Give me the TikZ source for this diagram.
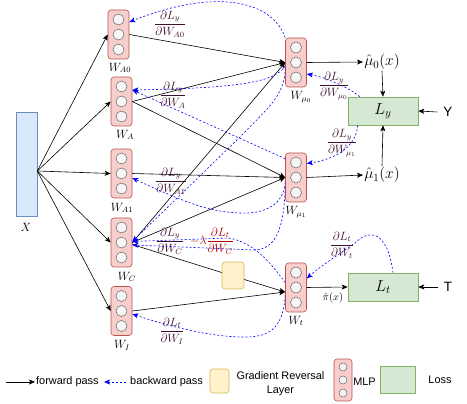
\RequirePackage{fix-cm}
\documentclass[tikz,border=0pt]{standalone}
\usepackage{amsmath}
\usepackage{fontspec}
\setsansfont{Liberation Sans}
\usetikzlibrary{arrows.meta,calc}
\definecolor{mlpfill}{HTML}{F8CECC}
\definecolor{mlpdraw}{HTML}{B85450}
\definecolor{neufill}{HTML}{F5F5F5}
\definecolor{neudraw}{HTML}{666666}
\definecolor{xfill}{HTML}{DAE8FC}
\definecolor{xdraw}{HTML}{6C8EBF}
\definecolor{grlfill}{HTML}{FFF2CC}
\definecolor{grldraw}{HTML}{D6B656}
\definecolor{lossfill}{HTML}{D5E8D4}
\definecolor{lossdraw}{HTML}{82B366}
\definecolor{gradcol}{HTML}{401030}
\definecolor{gradred}{HTML}{B00000}
\definecolor{bwdblue}{HTML}{0000FF}
\newcommand{\mlpnode}[2]{%
  \node[mlpbox] (#1) at #2 {};
  \node[neuron] (#1-a) at ([yshift=15pt]#1.center) {};
  \node[neuron] (#1-b) at (#1.center) {};
  \node[neuron] (#1-c) at ([yshift=-15pt]#1.center) {};
}
\newcommand{\legfont}{\sffamily\fontsize{10.9}{14}\selectfont}
\begin{document}
\begin{tikzpicture}[x=1pt,y=-1pt,
  mlpbox/.style={draw=mlpdraw, fill=mlpfill, rounded corners=3pt, minimum width=21pt, minimum height=49pt, inner sep=0pt, line width=0.6pt},
  neuron/.style={circle, draw=neudraw, fill=neufill, minimum size=11pt, inner sep=0pt, line width=0.5pt},
  xbox/.style={draw=xdraw, fill=xfill, minimum width=21pt, minimum height=104pt, inner sep=0pt, line width=0.6pt},
  grlbox/.style={draw=grldraw, fill=grlfill, rounded corners=3pt, inner sep=0pt, line width=0.6pt},
  lossbox/.style={draw=lossdraw, fill=lossfill, inner sep=0pt, line width=0.6pt},
  fwd/.style={draw=black, line width=0.6pt, -{Stealth[length=6pt,width=5pt,inset=1.5pt]}},
  plain/.style={draw=black, line width=0.6pt},
  bwd/.style={draw=bwdblue, line width=0.6pt, dash pattern=on 2pt off 2pt, -{Stealth[length=6pt,width=5pt,inset=1.5pt]}},
  wlab/.style={font=\fontsize{12}{14}\selectfont, inner sep=0pt},
  grad/.style={font=\fontsize{12}{14}\selectfont, text=gradcol, inner sep=0pt},
  gradr/.style={font=\fontsize{12}{14}\selectfont, text=gradred, inner sep=0pt},
  legtext/.style={font=\legfont, inner sep=1pt}
]
\useasboundingbox (0,0) rectangle (467,404);

% input
\node[xbox] (xb) at (26.5,164) {};
\node[wlab] (xlab) at (26,227) {$X$};

% MLPs
\mlpnode{wa0}{(118.5,34.5)}
\mlpnode{wa}{(121.5,101.5)}
\mlpnode{wa1}{(121.5,173.5)}
\mlpnode{wc}{(121.5,242.5)}
\mlpnode{wi}{(121.5,311)}
\mlpnode{wmu0}{(296,62.5)}
\mlpnode{wmu1}{(296,177.5)}
\mlpnode{wt}{(296,287.5)}

\node[wlab] (la0) at (120,68) {$W_{A0}$};
\node[wlab] (la) at (125,135) {$W_{A}$};
\node[wlab] (la1) at (122,208) {$W_{A1}$};
\node[wlab] (lc) at (127,277) {$W_{C}$};
\node[wlab] (li) at (122,345) {$W_{I}$};
\node[wlab] (lmu0) at (301,97) {$W_{\mu_0}$};
\node[wlab] (lmu1) at (296,212) {$W_{\mu_1}$};
\node[wlab] (lt) at (296,321) {$W_{t}$};

% GRL
\node[grlbox, minimum width=22pt, minimum height=27pt] (grl) at (233,275.5) {};

% outputs and losses
\node[font=\fontsize{15.5}{17}\selectfont, inner sep=1pt] (mu0) at (382,62) {$\hat{\mu}_0(x)$};
\node[font=\fontsize{15.5}{17}\selectfont, inner sep=1pt] (mu1) at (382,175) {$\hat{\mu}_1(x)$};
\node[lossbox, minimum width=70pt, minimum height=28pt, font=\fontsize{16}{18}\selectfont] (ly) at (383,111) {$L_y$};
\node[lossbox, minimum width=70pt, minimum height=28pt, font=\fontsize{16}{18}\selectfont] (ltl) at (383,287) {$L_t$};
\node[font=\sffamily\fontsize{13.5}{15}\selectfont, inner sep=0pt] (yn) at (448,112) {Y};
\node[font=\sffamily\fontsize{13.5}{15}\selectfont, inner sep=0pt] (tn) at (448,287) {T};
\node[font=\fontsize{10.5}{12}\selectfont, inner sep=0pt] (pilab) at (333,298) {$\hat{\pi}(x)$};

% forward pass
\coordinate (xs) at ([yshift=-7pt]xb.east);
\draw[fwd] (xs) -- (wa0.west);
\draw[fwd] (xs) -- (wa.west);
\draw[fwd] (xs) -- (wa1.west);
\draw[fwd] (xs) -- (wc.west);
\draw[fwd] (xs) -- (wi.west);
\draw[fwd] (wa0.east) -- (wmu0.west);
\draw[fwd] (wa.east) -- (wmu0.west);
\draw[fwd] (wa.east) -- (wmu1.west);
\draw[fwd] (wa1.east) -- (wmu1.west);
\draw[fwd] (wc.east) -- (wmu0.west);
\draw[fwd] (wc.east) -- (wmu1.west);
\draw[plain] ([yshift=-2pt]wc.east) -- ([yshift=3pt]grl.west);
\draw[fwd] ([yshift=-4pt]grl.east) -- ([yshift=-4.5pt]wt.west);
\draw[fwd] (wi.east) -- ([yshift=-4.5pt]wt.west);
\draw[fwd] (wmu0.east) -- (mu0.west);
\draw[fwd] (wmu1.east) -- (mu1.west);
\draw[fwd] (mu0.south) -- (ly.north);
\draw[fwd] (mu1.north) -- (ly.south);
\draw[fwd] ([xshift=-6pt]yn.west) -- (ly.east);
\draw[fwd] ([xshift=-6pt]tn.west) -- (ltl.east);
\draw[fwd] (wt.east) -- (ltl.west);

% backward pass
\draw[bwd] (wmu0.north west) .. controls (272,0) and (215,-12) .. ([yshift=12.5pt]wa0.east);
\draw[bwd] ([yshift=-3.5pt]wmu0.west) .. controls (275,82) and (240,88) .. ([yshift=11.5pt]wa.east);
\draw[bwd] ([yshift=-6pt]wmu1.north west) -- ([yshift=11.5pt]wa.east);
\draw[bwd] ([yshift=-5pt]wmu1.west) .. controls (283,207) and (262,214) .. (240,213) .. controls (212,212) and (190,205) .. ([yshift=-4.5pt]wa1.east);
\draw[bwd] ([yshift=-6pt]wmu0.west) .. controls (285,95) and (268,108) .. (240,137) -- ([yshift=1pt]wc.east);
\draw[bwd] ([yshift=-10pt]wmu1.west) .. controls (284,230) and (275,249) .. (255,250) -- ([yshift=-2.5pt]wc.east);
\draw[bwd] ([yshift=5pt]wt.west) .. controls (272,265) and (255,242) .. (228,238) -- ([yshift=1pt]wc.east);
\draw[bwd] ([yshift=-8pt]wt.west) .. controls (283,330) and (268,338) .. (240,337) .. controls (205,336) and (165,325) .. ([yshift=-3pt]wi.east);
\draw[bwd] ([xshift=12pt]ly.north west) .. controls (350,88) and (325,77) .. ([yshift=-11.5pt]wmu0.east);
\draw[bwd] ([xshift=10pt]ly.south west) .. controls (356,150) and (330,160) .. ([yshift=14pt]wmu1.east);
\draw[bwd] ([xshift=10pt]ltl.north) .. controls (387,228) and (368,230) .. (355,243) .. controls (338,255) and (318,268) .. ([yshift=9pt]wt.east);

% gradient labels
\node[grad] (ga0) at (170,24) {$\dfrac{\partial L_y}{\partial W_{A0}}$};
\node[grad] (ga) at (173,95) {$\dfrac{\partial L_y}{\partial W_{A}}$};
\node[grad] (ga1) at (171,181) {$\dfrac{\partial L_y}{\partial W_{A1}}$};
\node[grad] (gc) at (170,241) {$\dfrac{\partial L_y}{\partial W_{C}}$};
\node[gradr, anchor=west] (gcr) at (190,241) {$-\lambda\dfrac{\partial L_t}{\partial W_{C}}$};
\node[grad] (gi) at (172,331) {$\dfrac{\partial L_t}{\partial W_{I}}$};
\node[grad] (gmu0) at (334,86) {$\dfrac{\partial L_y}{\partial W_{\mu_0}}$};
\node[grad] (gmu1) at (342,143) {$\dfrac{\partial L_y}{\partial W_{\mu_1}}$};
\node[grad] (gt) at (342,245) {$\dfrac{\partial L_t}{\partial W_{t}}$};

% legend
\coordinate (fa) at (6,382);
\node[legtext, anchor=west] (ftext) at (35,382) {forward pass};
\draw[fwd] (fa) -- (ftext.west);
\coordinate (ba) at (104,382);
\node[legtext, anchor=west] (btext) at (129,382) {backward pass};
\draw[bwd] ([xshift=-3pt]btext.west) -- (ba);
\node[grlbox, minimum width=19pt, minimum height=24pt] (lgrl) at (219.5,381) {};
\node[legtext, align=center] (lgrltext) at (280.5,384) {Gradient Reversal\\Layer};
\node[draw=mlpdraw, fill=mlpfill, rounded corners=3pt, minimum width=18pt, minimum height=42pt, inner sep=0pt, line width=0.6pt] (lmlp) at (343,380) {};
\node[neuron, minimum size=8pt] (lmlp-a) at ([yshift=13pt]lmlp.center) {};
\node[neuron, minimum size=8pt] (lmlp-b) at (lmlp.center) {};
\node[neuron, minimum size=8pt] (lmlp-c) at ([yshift=-13pt]lmlp.center) {};
\node[legtext] (mlptext) at (364.5,382) {MLP};
\node[lossbox, minimum width=35pt, minimum height=27pt] (lloss) at (397.5,379.5) {};
\node[legtext] (losstext) at (440,380) {Loss};
\end{tikzpicture}
\end{document}
